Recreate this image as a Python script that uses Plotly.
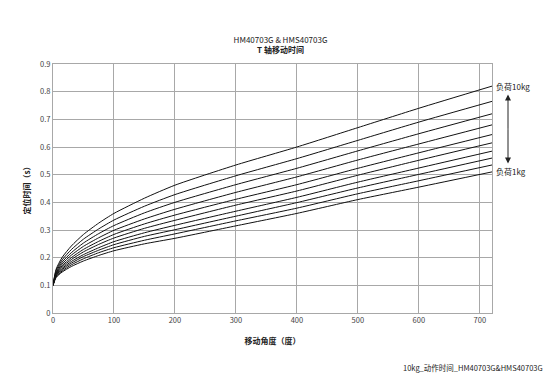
import plotly.graph_objects as go

angles = [0, 5, 15, 30, 50, 75, 100, 150, 200, 300, 400, 500, 600, 720]

# time (s) per load curve, 10 kg (top) down to 1 kg (bottom)
t_10kg = [0.100, 0.158, 0.201, 0.242, 0.284, 0.325, 0.360, 0.415, 0.462, 0.535, 0.600, 0.670, 0.740, 0.820]
t_9kg  = [0.100, 0.153, 0.192, 0.229, 0.267, 0.304, 0.336, 0.386, 0.428, 0.496, 0.558, 0.624, 0.690, 0.765]
t_8kg  = [0.100, 0.148, 0.184, 0.218, 0.253, 0.287, 0.316, 0.362, 0.400, 0.464, 0.523, 0.586, 0.648, 0.720]
t_7kg  = [0.100, 0.144, 0.177, 0.209, 0.241, 0.272, 0.299, 0.340, 0.375, 0.436, 0.492, 0.553, 0.611, 0.680]
t_6kg  = [0.100, 0.141, 0.171, 0.200, 0.230, 0.259, 0.284, 0.322, 0.354, 0.411, 0.464, 0.523, 0.579, 0.645]
t_5kg  = [0.100, 0.138, 0.166, 0.193, 0.221, 0.248, 0.271, 0.306, 0.335, 0.390, 0.441, 0.498, 0.552, 0.615]
t_4kg  = [0.100, 0.135, 0.161, 0.186, 0.211, 0.236, 0.258, 0.290, 0.317, 0.368, 0.418, 0.473, 0.524, 0.585]
t_3kg  = [0.100, 0.133, 0.157, 0.180, 0.204, 0.227, 0.247, 0.277, 0.301, 0.350, 0.399, 0.452, 0.501, 0.560]
t_2kg  = [0.100, 0.130, 0.152, 0.174, 0.196, 0.218, 0.236, 0.263, 0.286, 0.333, 0.379, 0.431, 0.478, 0.535]
t_1kg  = [0.100, 0.128, 0.148, 0.168, 0.188, 0.208, 0.225, 0.250, 0.270, 0.315, 0.360, 0.410, 0.455, 0.510]

series = [t_10kg, t_9kg, t_8kg, t_7kg, t_6kg, t_5kg, t_4kg, t_3kg, t_2kg, t_1kg]
names = ["10kg", "9kg", "8kg", "7kg", "6kg", "5kg", "4kg", "3kg", "2kg", "1kg"]

x_ticks = [0, 100, 200, 300, 400, 500, 600, 700]
y_ticks = [0, 0.1, 0.2, 0.3, 0.4, 0.5, 0.6, 0.7, 0.8, 0.9]
y_labels = ["0", "0.1", "0.2", "0.3", "0.4", "0.5", "0.6", "0.7", "0.8", "0.9"]

FONT = "Noto Sans CJK SC, Noto Sans, sans-serif"

fig = go.Figure()
for name, vals in zip(names, series):
    fig.add_trace(go.Scatter(x=angles, y=vals, mode="lines", name=name,
                             line=dict(color="#111111", width=1, shape="spline", smoothing=0.6),
                             showlegend=False, hoverinfo="skip"))

fig.update_layout(
    width=550, height=383,
    margin=dict(l=53, r=58, t=64, b=70),
    paper_bgcolor="white", plot_bgcolor="white",
    font=dict(family=FONT, size=8, color="#333333"),
    title=dict(text="HM40703G & HMS40703G<br><b>T 轴移动时间</b>",
               x=0.51, xanchor="center", y=0.888, yanchor="middle",
               font=dict(size=8, color="#222222")),
)
fig.update_xaxes(range=[0, 720], tickvals=x_ticks, ticks="", showgrid=True,
                 gridcolor="#a8a8a8", gridwidth=1, zeroline=False,
                 showline=True, linecolor="#a8a8a8", mirror=True,
                 tickfont=dict(size=7.5, color="#444444"),
                 title=dict(text="<b>移动角度（度）</b>", font=dict(size=8, color="#222222"), standoff=14))
fig.update_yaxes(range=[0, 0.9], tickvals=y_ticks, ticktext=y_labels, ticks="", showgrid=True,
                 gridcolor="#a8a8a8", gridwidth=1, zeroline=False,
                 showline=True, linecolor="#a8a8a8", mirror=True,
                 tickfont=dict(size=7.5, color="#444444"),
                 title=dict(text="<b>定位时间（s）</b>", font=dict(size=8, color="#222222"), standoff=8))

fig.add_annotation(x=1.0, xref="paper", y=t_10kg[-1], yref="y", text="负荷10kg",
                   showarrow=False, xanchor="left", xshift=2, font=dict(size=8, color="#222222"))
fig.add_annotation(x=1.0, xref="paper", y=t_1kg[-1], yref="y", text="负荷1kg",
                   showarrow=False, xanchor="left", xshift=2, font=dict(size=8, color="#222222"))
# double-headed arrow
fig.add_annotation(x=1.0, xref="paper", y=0.79, yref="y", ax=0, ay=36,
                   xshift=16, text="", showarrow=True, arrowhead=2, arrowsize=1.2, arrowwidth=1,
                   arrowcolor="#222222")
fig.add_annotation(x=1.0, xref="paper", y=0.54, yref="y", ax=0, ay=-36,
                   xshift=16, text="", showarrow=True, arrowhead=2, arrowsize=1.2, arrowwidth=1,
                   arrowcolor="#222222")

fig.add_annotation(x=1.0, xref="paper", y=-0.22, yref="paper", xanchor="right", yanchor="middle",
                   xshift=53, text="10kg_动作时间_HM40703G&HMS40703G", showarrow=False,
                   font=dict(size=7.5, color="#222222"))

fig.write_html("out.html")
